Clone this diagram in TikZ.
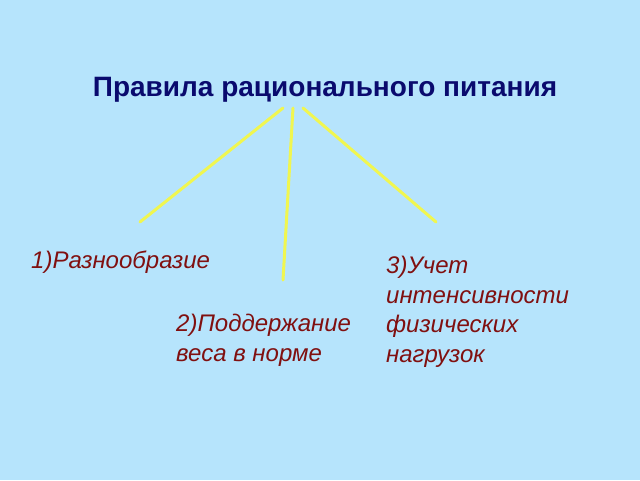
\documentclass[tikz,border=0pt]{standalone}
\usepackage{fontspec}
\setmainfont{Liberation Sans}
\definecolor{bg}{RGB}{182,228,252}
\definecolor{navy}{RGB}{10,10,110}
\definecolor{dred}{RGB}{128,16,16}
\definecolor{ylw}{RGB}{240,246,80}
\begin{document}
\begin{tikzpicture}[x=1pt,y=-1pt,
  titletext/.style={font=\fontsize{28}{33}\selectfont\bfseries, text=navy, inner sep=0pt, anchor=base},
  item/.style={font=\fontsize{24}{29.5}\selectfont\itshape, text=dred, inner sep=0pt, anchor=base west, align=left},
  conn/.style={draw=ylw, line width=3pt, line cap=round}]
\fill[bg] (0,0) rectangle (640,480);
\useasboundingbox (0,0) rectangle (640,480);
\node[titletext] (title) at (325,96) {Правила рационального питания};
\coordinate (s1) at (283,108);
\coordinate (s2) at (293,108);
\coordinate (s3) at (303,108);
\coordinate (e1) at (140,222);
\coordinate (e2) at (283,280);
\coordinate (e3) at (436,222);
\node[item] (r1) at (31,268) {1)Разнообразие};
\node[item, anchor=north west] (r2) at (176,314) {2)Поддержание\\веса в норме};
\node[item, anchor=north west] (r3) at (386,256) {3)Учет\\интенсивности\\физических\\нагрузок};
\draw[conn] (s1) -- (e1);
\draw[conn] (s2) -- (e2);
\draw[conn] (s3) -- (e3);
\end{tikzpicture}
\end{document}
